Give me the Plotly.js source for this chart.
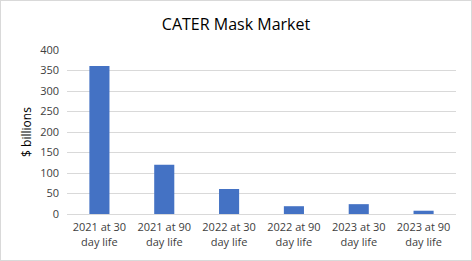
<!DOCTYPE html>
<html>
<head>
<meta charset="utf-8">
<script src="https://cdn.plot.ly/plotly-3.0.1.min.js"></script>
<style>
html,body{margin:0;padding:0;background:#fff;}
#chart{width:472px;height:261px;}
</style>
</head>
<body>
<div id="chart"></div>
<script>
const categories = ["2021 at 30<br>day life", "2021 at 90<br>day life", "2022 at 30<br>day life", "2022 at 90<br>day life", "2023 at 30<br>day life", "2023 at 90<br>day life"];
const values = [361, 120, 61, 19, 24, 8];
const yTicks = [0, 50, 100, 150, 200, 250, 300, 350, 400];

const trace = {
  type: 'bar',
  x: categories,
  y: values,
  marker: {color: '#4472C4', line: {width: 0}},
  hoverinfo: 'none'
};

const layout = {
  width: 472,
  height: 261,
  margin: {l: 67, r: 16, t: 50, b: 47},
  paper_bgcolor: '#fff',
  plot_bgcolor: '#fff',
  bargap: 0.69,
  showlegend: false,
  font: {family: '"Open Sans", sans-serif', color: '#595959'},
  title: {
    text: 'CATER Mask Market',
    font: {size: 16, color: '#000', family: '"Open Sans", sans-serif'},
    x: 0.5, xanchor: 'center', y: 0.905, yanchor: 'middle'
  },
  xaxis: {
    type: 'category',
    tickfont: {size: 11, color: '#404040', family: '"Open Sans", sans-serif'},
    showgrid: false,
    showline: true,
    linecolor: '#d9d9d9',
    linewidth: 1,
    ticks: '',
    ticklabelstandoff: 3,
    fixedrange: true
  },
  yaxis: {
    range: [0, 400],
    tickvals: yTicks,
    ticktext: yTicks.map(String),
    tickfont: {size: 11, color: '#404040', family: '"Open Sans", sans-serif'},
    gridcolor: '#d9d9d9',
    gridwidth: 1,
    zeroline: false,
    showline: false,
    ticks: '',
    ticklabelstandoff: 7,
    title: {text: '$ billions', font: {size: 12, color: '#000', family: '"Open Sans", sans-serif'}, standoff: 5},
    fixedrange: true
  }
};

Plotly.newPlot('chart', [trace], layout, {staticPlot: true, displayModeBar: false}).then(() => {
  const svg = document.querySelector('#chart .main-svg');
  const ns = 'http://www.w3.org/2000/svg';
  const r = document.createElementNS(ns, 'rect');
  r.setAttribute('x', 0.5); r.setAttribute('y', 0.5);
  r.setAttribute('width', 471); r.setAttribute('height', 260);
  r.setAttribute('fill', 'none'); r.setAttribute('stroke', '#d9d9d9'); r.setAttribute('stroke-width', 1);
  svg.appendChild(r);
});
</script>
</body>
</html>
